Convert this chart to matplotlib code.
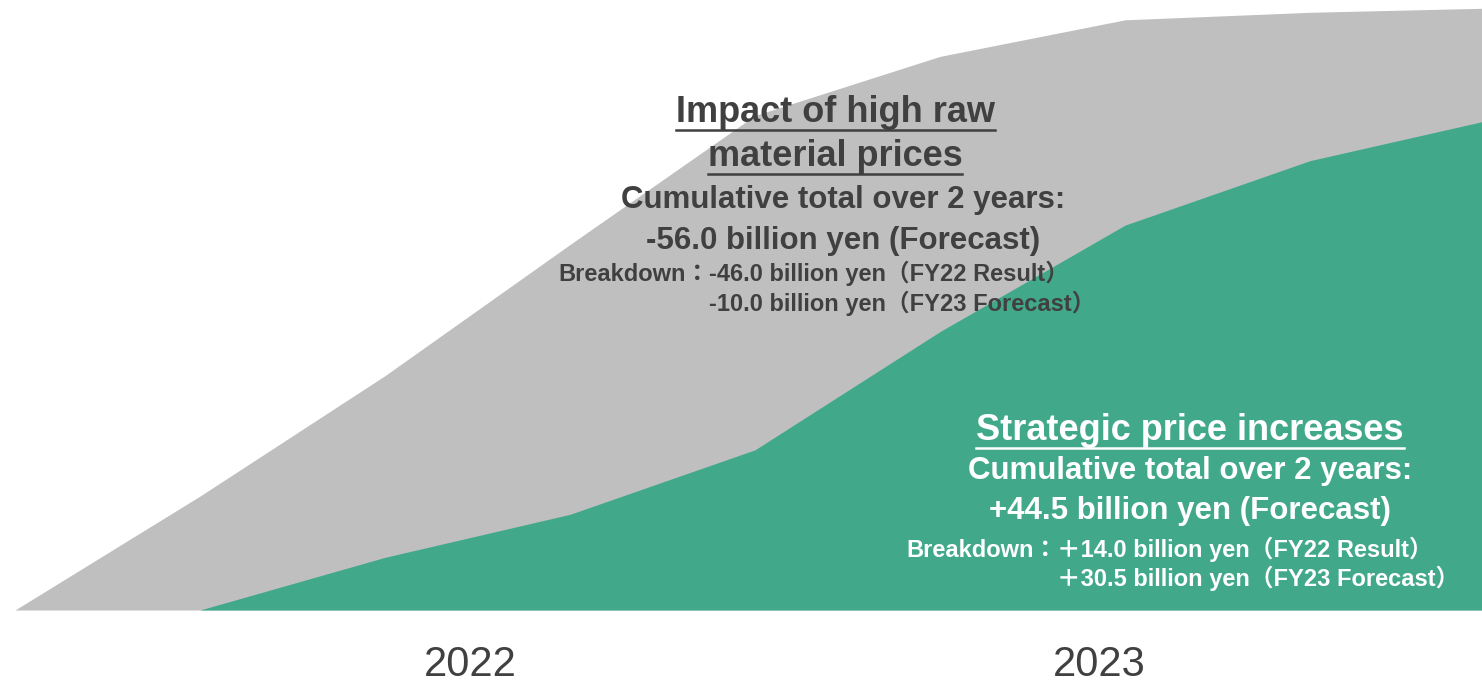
import matplotlib.pyplot as plt
import numpy as np

# cumulative impact, billion yen, quarter by quarter (FY22 Q1 .. FY23 Q4)
quarters = np.arange(9)
raw_material = [0, 10.6, 21.8, 34.0, 46.0, 51.5, 54.9, 55.6, 56.0]
price_increase = [np.nan, 0, 4.9, 8.9, 14.9, 25.9, 35.8, 41.8, 45.7]
year_labels = ["2022", "2023"]
year_pos = [2.46, 5.86]

GRAY = "#bfbfbf"
GREEN = "#41a98a"
TEXT = "#404040"
FONTS = ["Liberation Sans", "Noto Sans CJK JP", "DejaVu Sans"]

W, H = 1482, 686
fig = plt.figure(figsize=(W / 100, H / 100), dpi=100)
base = 610  # baseline in pixels from the top
ax = fig.add_axes([0, (H - base) / H, 1, base / H])
ax.fill_between(quarters, 0, raw_material, color=GRAY, lw=0)
ax.fill_between(quarters, 0, price_increase, color=GREEN, lw=0)
ax.set_xlim(-15 / 185, (W - 15) / 185)
ax.set_ylim(0, base / 10.75)
for s in ax.spines.values():
    s.set_visible(False)
ax.set_yticks([])
ax.set_xticks(year_pos, year_labels, family=FONTS, fontsize=30, color=TEXT)
ax.tick_params(axis="x", length=0, pad=25)


def px(x, y):
    return x / W, 1 - y / H


def label(x, y, s, size, color, ha="center", va="center", underline=False):
    t = fig.text(*px(x, y), s, fontsize=size, color=color, ha=ha, va=va,
                 fontweight="bold", family=FONTS)
    if underline:
        fig.canvas.draw()
        bb = t.get_window_extent()
        yline = bb.y0 + 1
        fig.add_artist(plt.Line2D([bb.x0 / W, bb.x1 / W], [yline / H, yline / H],
                                  color=color, lw=1.8))
    return t


# raw material block
label(835, 113, "Impact of high raw", 26, TEXT, underline=True)
label(835, 157, "material prices", 26, TEXT, underline=True)
label(843, 200, "Cumulative total over 2 years:", 22.5, TEXT)
label(843, 241, "-56.0 billion yen (Forecast)", 22.5, TEXT)
label(709, 281, "Breakdown：", 17, TEXT, ha="right", va="baseline")
label(709, 281, "-46.0 billion yen（FY22 Result）", 17, TEXT, ha="left", va="baseline")
label(709, 311, "-10.0 billion yen（FY23 Forecast）", 17, TEXT, ha="left", va="baseline")

# price increase block
label(1190, 431, "Strategic price increases", 26, "white", underline=True)
label(1190, 471, "Cumulative total over 2 years:", 22.5, "white")
label(1190, 511, "+44.5 billion yen (Forecast)", 22.5, "white")
label(1057, 557, "Breakdown：", 17, "white", ha="right", va="baseline")
label(1057, 557, "＋14.0 billion yen（FY22 Result）", 17, "white", ha="left", va="baseline")
label(1057, 586, "＋30.5 billion yen（FY23 Forecast）", 17, "white", ha="left", va="baseline")

fig.savefig("out.png", dpi=100)
